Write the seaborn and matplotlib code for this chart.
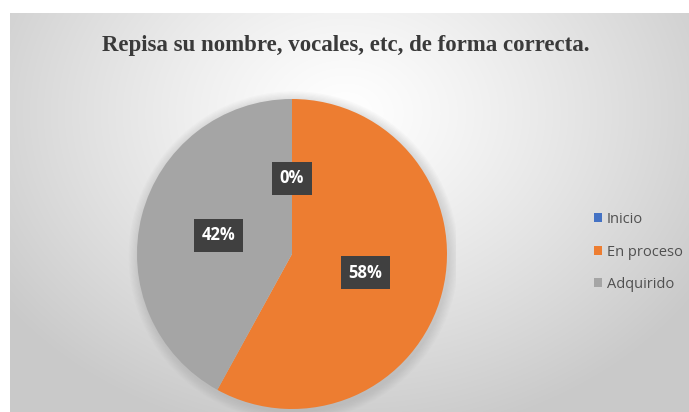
import numpy as np
import pandas as pd
import seaborn as sns
import matplotlib.pyplot as plt
from matplotlib.patches import Circle

# data
categories = ['Inicio', 'En proceso', 'Adquirido']
percentages = [0, 58, 42]
title = 'Repisa su nombre, vocales, etc, de forma correcta.'

df = pd.DataFrame({'categoria': categories, 'porcentaje': percentages})

sns.set_theme(style='white')
colors = sns.color_palette(['#4472C4', '#ED7D31', '#A5A5A5'])
plt.rcParams['font.family'] = ['Open Sans', 'DejaVu Sans']

W, H = 689, 412
fig = plt.figure(figsize=(W / 100, H / 100), dpi=100)
fig.patch.set_facecolor('white')

# chart area background, radial gradient (light centre, grey edges)
bg = fig.add_axes([10 / W, 0, 1 - 10 / W, (H - 13) / H])
yy, xx = np.mgrid[0:399, 0:679]
d = np.sqrt(((xx - 335) / 420) ** 2 + ((yy - 100) / 330) ** 2)
d = np.clip(d, 0, 1)
shade = 1.0 - 0.21 * d ** 1.2
bg.imshow(np.dstack([shade] * 3), aspect='auto', interpolation='bilinear')
bg.axis('off')

# pie axes: centre (292, 254) px, radius 155 px, with a margin for the shadow
cx, cy, r, m = 292, 254, 155, 1.06
ax = fig.add_axes([(cx - r * m) / W, (H - cy - r * m) / H, 2 * r * m / W, 2 * r * m / H])
ax.set_facecolor('none')

# soft shadow round the pie
for k in range(8):
    ax.add_patch(Circle((0.01, -0.015), 1.0 + 0.008 * (k + 1), color='#8a8a8a',
                        alpha=0.035, linewidth=0, zorder=0))

wedges, texts, autotexts = ax.pie(
    df['porcentaje'], colors=colors, startangle=90, counterclock=False,
    autopct='%.0f%%', pctdistance=0.49, radius=1,
    wedgeprops=dict(linewidth=0),
)
ax.set_xlim(-m, m)
ax.set_ylim(-m, m)
ax.set_aspect('equal')
ax.axis('off')

for t in autotexts:
    t.set_color('white')
    t.set_fontsize(12)
    t.set_fontweight('bold')
    t.set_bbox(dict(boxstyle='square,pad=0.45', facecolor='#404040', edgecolor='none'))

fig.text(346 / W, 1 - 46 / H, title, ha='center', va='center',
         fontsize=16.5, fontweight='bold', color='#3a3a3a', family='Liberation Serif')

leg = fig.legend(wedges, df['categoria'], loc='center left',
                 bbox_to_anchor=(581 / W, 1 - 252 / H), frameon=False,
                 fontsize=10.5, labelcolor='#505050', handlelength=0.55,
                 handleheight=0.55, handletextpad=0.3, labelspacing=1.2)

fig.savefig('out.png', dpi=100)
